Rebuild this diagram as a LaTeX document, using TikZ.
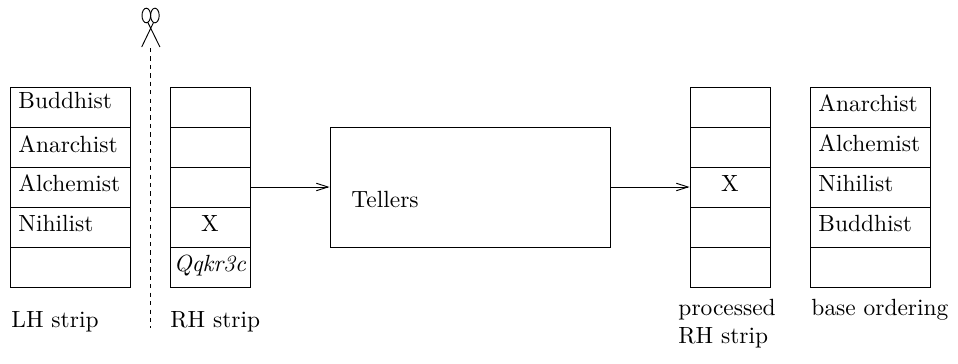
\documentclass[tikz,border=0pt]{standalone}
\usetikzlibrary{arrows.meta}
\begin{document}
\begin{tikzpicture}[x=0.015cm,y=-0.015cm,
  cell/.style={draw, rectangle, inner sep=0pt, line width=0.4pt, minimum height=0.6cm},
  wide/.style={cell, minimum width=1.8cm},
  narrow/.style={cell, minimum width=1.2cm},
  lbl/.style={anchor=base west, inner sep=0pt},
  ctr/.style={anchor=base, inner sep=0pt},
  conn/.style={-{Straight Barb[length=5pt,width=3.2pt]}, line width=0.4pt},
  cut/.style={dash pattern=on 1.8pt off 1.8pt, line width=0.4pt}]
\useasboundingbox (0,0) rectangle (958,363);
% strips
\foreach \i in {0,...,4} {
  \node[wide]   (lh\i)   at (70,  107+40*\i) {};
  \node[narrow] (rh\i)   at (210, 107+40*\i) {};
  \node[narrow] (proc\i) at (730, 107+40*\i) {};
  \node[wide]   (base\i) at (870, 107+40*\i) {};
}
% LH strip texts
\node[lbl] (t1) at (18,108.3) {Buddhist};
\node[lbl] (t2) at (18,152.3) {Anarchist};
\node[lbl] (t3) at (18,191.7) {Alchemist};
\node[lbl] (t4) at (18,231.7) {Nihilist};
% RH strip texts
\node[ctr] (x1) at (210,231.7) {X};
\node[ctr] (q1) at (210,271.7) {\textit{Qqkr3c}};
% processed
\node[ctr] (x2) at (730,191.7) {X};
% base ordering
\node[lbl] (b1) at (818,111.7) {Anarchist};
\node[lbl] (b2) at (818,151.7) {Alchemist};
\node[lbl] (b3) at (818,191.7) {Nihilist};
\node[lbl] (b4) at (818,231.7) {Buddhist};
% Tellers box
\node[draw, rectangle, inner sep=0pt, line width=0.4pt, minimum width=4.2cm, minimum height=1.8cm] (tellers) at (470,187) {};
\node[lbl] (tl) at (351,207.3) {Tellers};
% connectors
\draw[conn] (rh2.east) -- (tellers.west);
\draw[conn] (tellers.east) -- (proc2.west);
% captions
\node[lbl] (c1) at (11,327.3) {LH strip};
\node[lbl] (c2) at (170,327.3) {RH strip};
\node[lbl] (c3a) at (678,315) {processed};
\node[lbl] (c3b) at (678,343) {RH strip};
\node[lbl] (c4) at (811,315) {base ordering};
% cut line with scissors
\coordinate (cutTop) at (150.7,48);
\coordinate (cutBot) at (150.7,328);
\draw[cut] (cutTop) -- (cutBot);
\draw[line width=0.4pt] (146.3,15.5) ellipse [x radius=4.3, y radius=7.3];
\draw[line width=0.4pt] (154.9,15.5) ellipse [x radius=4.3, y radius=7.3];
\draw[line width=0.4pt] (153.5,22.5) -- (141.7,47);
\draw[line width=0.4pt] (147.9,22.5) -- (159.9,47);
\end{tikzpicture}
\end{document}
